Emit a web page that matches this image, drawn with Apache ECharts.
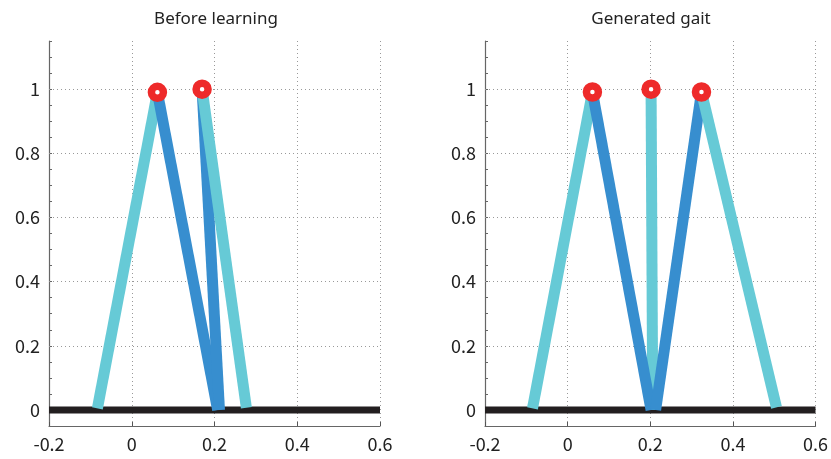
<!DOCTYPE html>
<html>
<head>
<meta charset="utf-8">
<script src="https://cdn.jsdelivr.net/npm/echarts@6/dist/echarts.min.js"></script>
<style>
  html, body { margin: 0; padding: 0; background: #fff; }
  #chart { width: 831px; height: 459px; }
</style>
</head>
<body>
<div id="chart"></div>
<script>
// Panel titles
const titles = ['Before learning', 'Generated gait'];

// Axis ranges and tick values
const xRange = [-0.2, 0.6];
const yRange = [-0.05, 1.15];
const yGridValues = [0.2, 0.4, 0.6, 0.8, 1.0];

// Ground segment (x from, x to)
const groundX = [-0.2, 0.6];

// Hip positions [x, y] for each panel
const hipsBefore = [[0.062, 0.990], [0.170, 1.000]];
const hipsGenerated = [[0.060, 0.991], [0.202, 1.000], [0.324, 0.991]];

// Legs for each panel: [hip index, foot x, foot y, kind]  kind: 'light' | 'dark'
// listed in drawing order (later ones drawn on top)
const legsBefore = [
  [0, -0.083, 0.005, 'light'],
  [0, 0.2076, 0.000, 'dark'],
  [1, 0.2120, 0.000, 'dark'],
  [1, 0.2770, 0.007, 'light']
];
const legsGenerated = [
  [1, 0.2060, 0.000, 'light'],
  [0, -0.085, 0.005, 'light'],
  [0, 0.2020, 0.000, 'dark'],
  [2, 0.2130, 0.000, 'dark'],
  [2, 0.5055, 0.008, 'light']
];

const COLORS = { light: '#66cad6', dark: '#378ecf', ground: '#231f20', hip: '#ee2a2a' };
const GRID_DOT = { type: [1, 3], color: '#999999', width: 1 };
const LABEL_FONT = { fontFamily: 'Noto Sans CJK JP', fontSize: 18, color: '#222' };
const TITLE_FONT = { fontFamily: 'Noto Sans', fontSize: 17, fontWeight: 'normal', color: '#222' };

const grids = [
  { left: 49, right: 451, top: 41, bottom: 33 },
  { left: 485, right: 15, top: 41, bottom: 33 }
];

function makeXAxis(i) {
  return {
    type: 'value', gridIndex: i, min: xRange[0], max: xRange[1], interval: 0.2,
    axisLine: { show: true, onZero: false, lineStyle: { color: '#666', width: 1.2 } },
    axisTick: { show: true, inside: true, length: 4, lineStyle: { color: '#555' } },
    axisLabel: Object.assign({ margin: 9 }, LABEL_FONT),
    splitLine: { show: true, lineStyle: GRID_DOT }
  };
}

function makeYAxis(i) {
  return {
    type: 'value', gridIndex: i, min: yRange[0], max: yRange[1], interval: 0.05,
    axisLine: { show: true, onZero: false, lineStyle: { color: '#666', width: 1.2 } },
    axisTick: { show: true, inside: true, length: 3, lineStyle: { color: '#666' } },
    axisLabel: Object.assign({
      margin: 9,
      formatter: function (v) {
        const k = v * 5;
        return Math.abs(k - Math.round(k)) < 1e-6 && v >= -1e-9 ? String(+v.toFixed(1)) : '';
      }
    }, LABEL_FONT),
    splitLine: { show: false }
  };
}

function panelSeries(i, hips, legs) {
  const out = [];
  // ground with horizontal dotted grid lines
  out.push({
    type: 'line', xAxisIndex: i, yAxisIndex: i, z: 2,
    data: [[groundX[0], 0], [groundX[1], 0]],
    symbol: 'none', silent: true,
    lineStyle: { color: COLORS.ground, width: 7, cap: 'butt' },
    markLine: {
      silent: true, symbol: 'none', label: { show: false }, z: 1,
      lineStyle: GRID_DOT,
      data: yGridValues.map(v => ({ yAxis: v }))
    }
  });
  legs.forEach((leg, k) => {
    const hip = hips[leg[0]];
    out.push({
      type: 'line', xAxisIndex: i, yAxisIndex: i, z: 3 + k * 0.01,
      data: [[hip[0], hip[1]], [leg[1], leg[2]]],
      symbol: 'none', silent: true,
      lineStyle: { color: COLORS[leg[3]], width: 11, cap: 'butt' }
    });
  });
  out.push({
    type: 'scatter', xAxisIndex: i, yAxisIndex: i, z: 5,
    data: hips,
    symbol: 'circle', symbolSize: 12, silent: true,
    itemStyle: { color: '#ffffff', borderColor: COLORS.hip, borderWidth: 7.5, opacity: 1 }
  });
  return out;
}

const chart = echarts.init(document.getElementById('chart'), null, { renderer: 'canvas' });
chart.setOption({
  animation: false,
  backgroundColor: '#ffffff',
  title: [
    { text: titles[0], left: 211, top: 6, textAlign: 'center', textStyle: TITLE_FONT },
    { text: titles[1], left: 646, top: 6, textAlign: 'center', textStyle: TITLE_FONT }
  ],
  grid: grids,
  xAxis: [makeXAxis(0), makeXAxis(1)],
  yAxis: [makeYAxis(0), makeYAxis(1)],
  series: panelSeries(0, hipsBefore, legsBefore).concat(panelSeries(1, hipsGenerated, legsGenerated))
});
</script>
</body>
</html>
